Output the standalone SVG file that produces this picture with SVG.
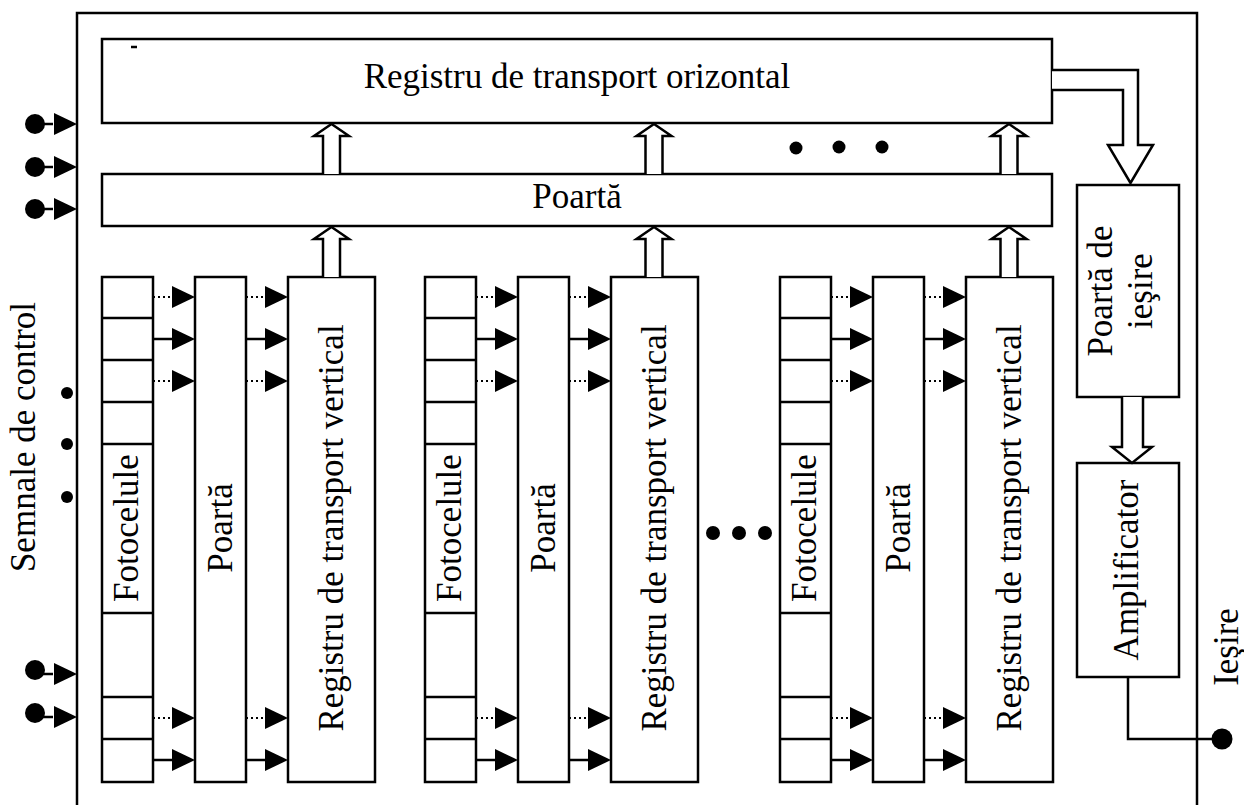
<svg xmlns="http://www.w3.org/2000/svg" xmlns:xlink="http://www.w3.org/1999/xlink" width="1244" height="805" viewBox="0 0 1244 805">
<style>
.box{fill:#fff;stroke:#000;stroke-width:2.5}
.ln{fill:none;stroke:#000;stroke-width:2.5}
.dot{fill:none;stroke:#000;stroke-width:2;stroke-dasharray:2 3}
.hol{fill:#fff;stroke:#000;stroke-width:2.5;stroke-linejoin:miter}
.t{font-family:"Liberation Serif","Times New Roman",serif;font-size:35px;fill:#000;text-anchor:middle}
.blk{fill:#000}
</style>
<defs>
<path id="ah" d="M0,-11 L23,0 L0,11 Z" fill="#000"/>
<path id="up" d="M-8.5,0 V-38 H-17.5 L0,-50 L17.5,-38 H8.5 V0" class="hol"/>
<g id="column">
  <rect class="box" x="102" y="277" width="51" height="505"/>
  <path class="ln" d="M102,318H153M102,360H153M102,402H153M102,444H153M102,613H153M102,697H153M102,739H153"/>
  <rect class="box" x="195" y="277" width="51" height="505"/>
  <rect class="box" x="288" y="277" width="87" height="505"/>
  <text class="t" transform="translate(138,528) rotate(-90)">Fotocelule</text>
  <text class="t" transform="translate(232,528) rotate(-90)">Poartă</text>
  <text class="t" transform="translate(343,528) rotate(-90)">Registru de transport vertical</text>
  <path class="dot" d="M153,297H172M153,381H172M153,718H172M246,297H265M246,381H265M246,718H265"/>
  <path class="ln" d="M153,339H172M153,760H172M246,339H265M246,760H265"/>
  <use xlink:href="#ah" x="172" y="297"/><use xlink:href="#ah" x="172" y="339"/><use xlink:href="#ah" x="172" y="381"/>
  <use xlink:href="#ah" x="172" y="718"/><use xlink:href="#ah" x="172" y="760"/>
  <use xlink:href="#ah" x="265" y="297"/><use xlink:href="#ah" x="265" y="339"/><use xlink:href="#ah" x="265" y="381"/>
  <use xlink:href="#ah" x="265" y="718"/><use xlink:href="#ah" x="265" y="760"/>
</g>
</defs>

<g id="frame">
  <path class="ln" d="M77,805V13H1197V805"/>
</g>

<g id="reg-orizontal">
  <rect class="box" x="102" y="39" width="950" height="84"/>
  <path class="ln" d="M131,47H137" stroke-width="2"/>
  <text class="t" x="577" y="88">Registru de transport orizontal</text>
</g>

<g id="poarta-orizontala">
  <rect class="box" x="102" y="174" width="950" height="52"/>
  <text class="t" x="577" y="208">Poartă</text>
</g>

<g id="col-1"><use xlink:href="#column"/></g>
<g id="col-2"><use xlink:href="#column" x="323"/></g>
<g id="col-3"><use xlink:href="#column" x="678"/></g>

<g id="poarta-iesire">
  <rect class="box" x="1077" y="185" width="102" height="212"/>
  <text class="t" transform="translate(1112,291) rotate(-90)">Poartă de</text>
  <text class="t" transform="translate(1152,291) rotate(-90)">ieşire</text>
</g>

<g id="amplificator">
  <rect class="box" x="1077" y="463" width="102" height="214"/>
  <text class="t" transform="translate(1138,570) rotate(-90)">Amplificator</text>
</g>

<g id="labels">
  <text class="t" transform="translate(35,437) rotate(-90)">Semnale de control</text>
  <text class="t" transform="translate(1238,647) rotate(-90)">Ieşire</text>
  <circle class="blk" cx="796" cy="148" r="6.5"/>
  <circle class="blk" cx="839" cy="147" r="6.5"/>
  <circle class="blk" cx="882" cy="147" r="6.5"/>
  <circle class="blk" cx="713" cy="533" r="7"/>
  <circle class="blk" cx="739" cy="533" r="7"/>
  <circle class="blk" cx="765" cy="533" r="7"/>
  <circle class="blk" cx="67" cy="393" r="6"/>
  <circle class="blk" cx="67" cy="444" r="6"/>
  <circle class="blk" cx="67" cy="497" r="6"/>
</g>

<g id="connectors">
  <use xlink:href="#up" x="331.5" y="174"/>
  <use xlink:href="#up" x="654" y="174"/>
  <use xlink:href="#up" x="1009" y="174"/>
  <use xlink:href="#up" x="331.5" y="277"/>
  <use xlink:href="#up" x="654" y="277"/>
  <use xlink:href="#up" x="1009" y="277"/>
  <path class="hol" d="M1052,70H1138V145H1153L1130.5,183L1108,145H1123V90H1052"/>
  <path class="hol" d="M1122,397V447H1112L1132,463L1152,447H1143V397"/>
  <path class="ln" d="M1128,677V739H1222"/>
  <circle class="blk" cx="1222" cy="739" r="10.5"/>
  <g id="ctrl-inputs">
    <circle class="blk" cx="35" cy="124" r="10"/><path class="ln" d="M35,124H53"/><use xlink:href="#ah" x="54" y="124"/>
    <circle class="blk" cx="35" cy="167" r="10"/><path class="ln" d="M35,167H53"/><use xlink:href="#ah" x="54" y="167"/>
    <circle class="blk" cx="35" cy="209" r="10"/><path class="ln" d="M35,209H53"/><use xlink:href="#ah" x="54" y="209"/>
    <circle class="blk" cx="35" cy="670" r="10"/><path class="ln" d="M35,670V674H53"/><use xlink:href="#ah" x="54" y="674"/>
    <circle class="blk" cx="35" cy="713" r="10"/><path class="ln" d="M35,713V717H53"/><use xlink:href="#ah" x="54" y="717"/>
  </g>
</g>
</svg>
